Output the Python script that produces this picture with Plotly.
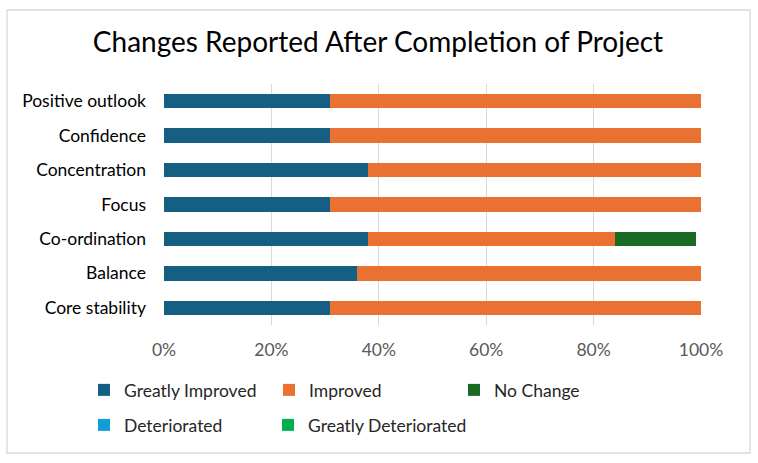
import plotly.graph_objects as go

categories = ["Positive outlook", "Confidence", "Concentration", "Focus",
              "Co-ordination", "Balance", "Core stability"]

greatly_improved = [31, 31, 38, 31, 38, 36, 31]
improved = [69, 69, 62, 69, 46, 64, 69]
no_change = [0, 0, 0, 0, 15, 0, 0]
deteriorated = [0, 0, 0, 0, 0, 0, 0]
greatly_deteriorated = [0, 0, 0, 0, 0, 0, 0]

series = [
    ("Greatly Improved", greatly_improved, "#156082", "legend"),
    ("Improved", improved, "#E97132", "legend"),
    ("No Change", no_change, "#196B24", "legend"),
    ("Deteriorated", deteriorated, "#0F9ED5", "legend2"),
    ("Greatly Deteriorated", greatly_deteriorated, "#00B050", "legend3"),
]

FONT = "Lato"
FS = 17.5

fig = go.Figure()
for name, vals, color, leg in series:
    fig.add_trace(go.Bar(
        y=categories, x=[v / 100 for v in vals], name=name, orientation="h",
        marker=dict(color=color, line=dict(width=0)), legend=leg,
    ))

# plot area: x 164..701, y 84..325 in a 758x463 page
L, R, T, B = 164, 57, 84, 138
W, H = 758 - L - R, 463 - T - B


def px(x):
    return (x - L) / W


def py(y):
    return (463 - B - y) / H


def legend_style(entrywidth):
    return dict(
        orientation="h", xanchor="left", yanchor="middle",
        entrywidth=entrywidth, entrywidthmode="pixels",
        font=dict(family=FONT, size=FS, color="#262626"),
        bgcolor="rgba(0,0,0,0)", itemclick=False, traceorder="normal",
    )


fig.update_layout(
    width=758, height=463,
    margin=dict(l=L, r=R, t=T, b=B),
    barmode="stack", bargap=0.58,
    paper_bgcolor="white", plot_bgcolor="white",
    font=dict(family=FONT, color="#262626"),
    title=dict(text="Changes Reported After Completion of Project",
               x=378 / 758, xref="container", xanchor="center",
               y=1 - 42 / 463, yref="container", yanchor="middle",
               font=dict(family=FONT, size=28, color="#000000")),
    xaxis=dict(range=[0, 1], tickvals=[0, 0.2, 0.4, 0.6, 0.8, 1.0],
               tickformat=".0%", showgrid=True, gridcolor="#D9D9D9",
               gridwidth=1.3, zeroline=False, showline=False, ticks="",
               ticklabelstandoff=12,
               tickfont=dict(family=FONT, size=FS, color="#595959")),
    yaxis=dict(autorange="reversed", showgrid=False, zeroline=False,
               showline=False, ticks="", ticklabelstandoff=17,
               tickfont=dict(family=FONT, size=FS, color="#000000")),
    legend=dict(x=px(84), y=py(390), **legend_style(140)),
    legend2=dict(x=px(84), y=py(425), **legend_style(0)),
    legend3=dict(x=px(84 + 184), y=py(425), **legend_style(0)),
    shapes=[dict(type="rect", xref="paper", yref="paper",
                 x0=px(7), x1=px(750), y0=py(453), y1=py(10),
                 line=dict(color="#D9D9D9", width=1.3),
                 fillcolor="rgba(0,0,0,0)", layer="below")],
)

fig.write_html("out.html", config={"displayModeBar": False},
               post_script="document.body.style.margin='0';")
